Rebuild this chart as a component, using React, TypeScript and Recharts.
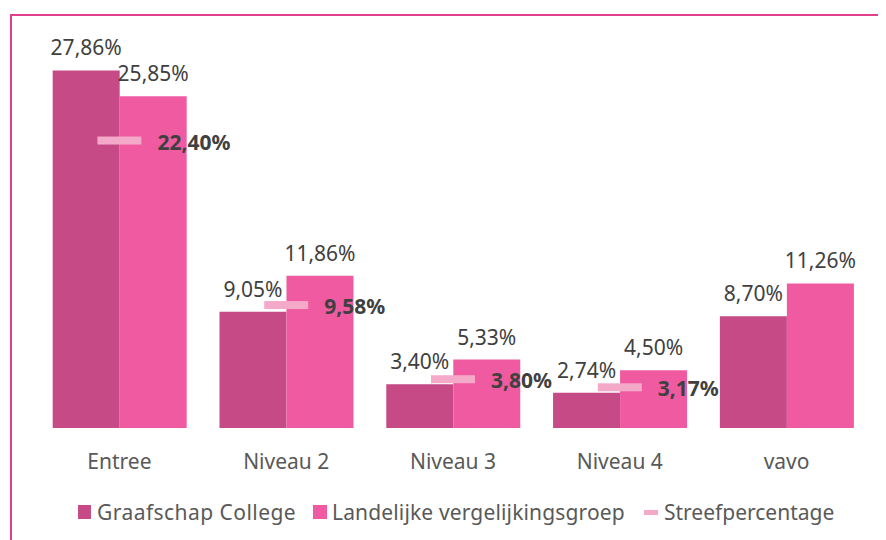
import React from 'react';
import { ComposedChart, Bar, Line, XAxis, YAxis, LabelList, Legend } from 'recharts';

const categories = ['Entree', 'Niveau 2', 'Niveau 3', 'Niveau 4', 'vavo'];
const graafschap = [27.86, 9.05, 3.4, 2.74, 8.7];
const landelijk = [25.85, 11.86, 5.33, 4.5, 11.26];
const streef: (number | null)[] = [22.4, 9.58, 3.8, 3.17, null];
const seriesNames = ['Graafschap College', 'Landelijke vergelijkingsgroep', 'Streefpercentage'];

const data = categories.map((c, i) => ({
  name: c,
  graafschap: graafschap[i],
  landelijk: landelijk[i],
  streef: streef[i],
}));

const C1 = '#C54A86';
const C2 = '#EF5AA1';
const C3 = '#F5A9C9';
const TXT = '#404040';
const FONT = '"Noto Sans", sans-serif';

const fmt = (v: any) => (v == null ? '' : Number(v).toFixed(2).replace('.', ',') + '%');

const TargetDot = (props: any) => {
  const { cx, cy, payload } = props;
  if (payload == null || payload.streef == null || cx == null || cy == null) return <g key={props.key} />;
  return <rect key={props.key} x={cx - 22} y={cy - 4} width={44} height={8} fill={C3} />;
};

const TargetLabel = (props: any) => {
  const { x, y, value } = props;
  if (value == null) return <g />;
  return (
    <text x={x + 38} y={y + 1} dominantBaseline="central" fontFamily={FONT} fontSize={21} fontWeight="bold" fill={TXT}>
      {fmt(value)}
    </text>
  );
};

const LegendContent = () => (
  <div style={{ display: 'flex', alignItems: 'center', fontFamily: FONT, fontSize: 21, color: '#595959', paddingLeft: 70, whiteSpace: 'nowrap' }}>
    <span style={{ display: 'inline-block', width: 13, height: 14, background: C1, marginRight: 6 }} />
    <span style={{ display: 'inline-block', width: 199, letterSpacing: 0.45, marginRight: 17 }}>{seriesNames[0]}</span>
    <span style={{ display: 'inline-block', width: 14, height: 14, background: C2, marginRight: 5 }} />
    <span style={{ display: 'inline-block', width: 294, letterSpacing: 0.15, marginRight: 18 }}>{seriesNames[1]}</span>
    <span style={{ display: 'inline-block', width: 14, height: 5, background: C3, marginRight: 6 }} />
    <span style={{ display: 'inline-block', width: 169 }}>{seriesNames[2]}</span>
  </div>
);

export default function App() {
  return (
    <div style={{ position: 'relative', width: 878, height: 532, overflow: 'hidden', background: '#fff' }}>
      <div
        style={{
          position: 'absolute',
          left: 2,
          top: 6,
          width: 1000,
          height: 1000,
          borderTop: '2px solid #E23E8C',
          borderLeft: '2px solid #E23E8C',
        }}
      />
      <div style={{ position: 'absolute', left: 0, top: 0 }}>
        <ComposedChart
          width={878}
          height={532}
          data={data}
          margin={{ top: 35, right: 16, left: 28, bottom: 34 }}
          barCategoryGap="10%"
          barGap={0}
        >
          <XAxis
            dataKey="name"
            axisLine={false}
            tickLine={false}
            tickSize={0}
            tickMargin={26}
            height={50}
            interval={0}
            tick={{ fontFamily: FONT, fontSize: 21, fill: '#595959' }}
          />
          <YAxis hide domain={[0, 30]} />
          <Legend
            verticalAlign="bottom"
            content={LegendContent}
            wrapperStyle={{ position: 'absolute', left: 0, top: 490, width: 878 }}
          />
          <Bar dataKey="graafschap" fill={C1} isAnimationActive={false}>
            <LabelList dataKey="graafschap" position="top" offset={15} formatter={fmt} style={{ fontFamily: FONT, fontSize: 21, fill: TXT }} />
          </Bar>
          <Bar dataKey="landelijk" fill={C2} isAnimationActive={false}>
            <LabelList dataKey="landelijk" position="top" offset={15} formatter={fmt} style={{ fontFamily: FONT, fontSize: 21, fill: TXT }} />
          </Bar>
          <Line
            dataKey="streef"
            stroke="none"
            isAnimationActive={false}
            dot={TargetDot}
            activeDot={false}
            label={TargetLabel}
            connectNulls={false}
          />
        </ComposedChart>
      </div>
    </div>
  );
}
